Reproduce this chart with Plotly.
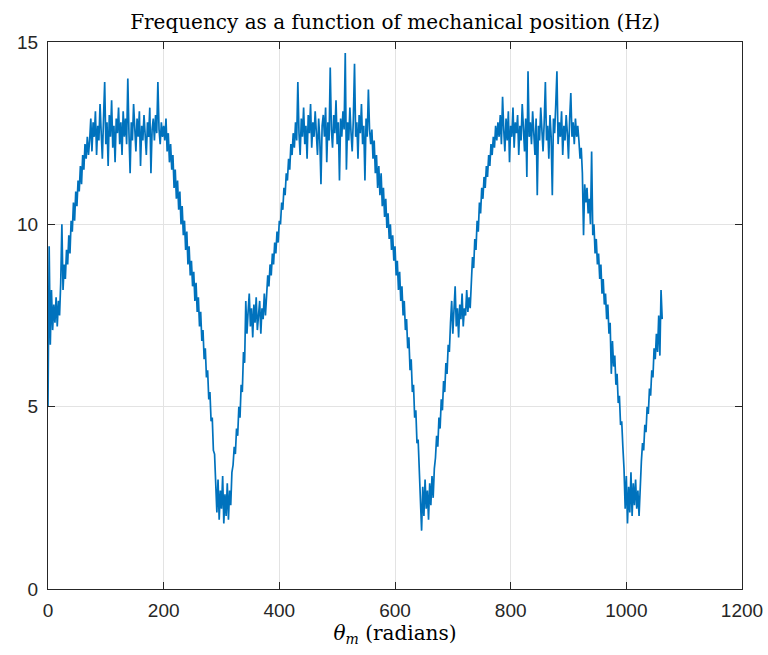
import plotly.graph_objects as go

seg_start = [5.0, 9.4, 6.7, 8.2, 7.1, 7.8, 7.3, 8.0, 7.2, 7.9, 7.5]
seg_rise1 = [8.4, 10.0, 8.2, 8.9, 8.5, 9.3, 8.9, 9.7, 9.2, 10.1, 9.8, 10.6, 10.1, 10.9, 10.5,
             11.2, 10.9, 11.6, 11.1, 11.9, 11.5, 12.2, 11.8, 12.4, 11.9]
seg_peak1 = [12.3, 12.9, 12.0, 12.8, 12.4, 13.1, 11.9, 12.7, 12.3, 13.3, 12.5, 11.8, 12.9, 13.9,
             12.2, 12.8, 11.6, 13.0, 12.4, 13.4, 12.1, 12.7, 11.7, 12.9, 12.5, 13.2, 12.2, 12.8,
             11.9, 13.1, 12.4, 12.9, 12.2, 14.0, 12.5, 11.4, 12.8, 12.3, 13.3, 12.6, 12.0, 12.9,
             12.4, 13.1, 11.6, 12.7, 12.3, 13.0, 12.5, 11.9, 12.8, 12.4, 13.2, 11.4, 12.6, 12.9,
             12.3, 13.0, 12.5, 13.9, 12.6, 12.2, 12.8, 12.4, 12.7]
seg_fall1 = [12.3, 12.9, 12.0, 12.5, 11.7, 12.2, 11.5, 11.9, 11.0, 11.5, 10.7, 11.2, 10.4, 10.9,
             10.0, 10.5, 9.7, 10.1, 9.3, 9.8, 8.9, 9.4, 8.6, 9.0, 8.3, 8.7, 7.9, 8.4, 7.6, 8.0,
             7.2, 7.6, 6.8, 7.1, 6.3, 6.6, 5.8, 6.0, 5.2, 5.4, 4.6, 4.7, 3.8, 3.7]
seg_low1 = [2.9, 2.1, 3.0, 1.9, 2.7, 2.2, 3.1, 1.8, 2.6, 2.0, 2.9, 1.9, 2.7, 2.3, 3.2]
seg_rise2a = [3.4, 3.9, 3.7, 4.4, 4.2, 5.0, 4.7, 5.6, 5.4, 6.5, 6.2]
seg_shelf2 = [7.9, 7.0, 7.6, 8.1, 7.2, 7.7, 6.9, 7.8, 7.3, 8.0, 7.1, 7.6, 7.9, 7.0, 7.7, 7.4,
              8.1, 7.5]
seg_rise2b = [8.2, 8.6, 8.3, 8.9, 8.6, 9.2, 8.9, 9.5, 9.2, 9.8, 9.5, 10.1, 10.0, 10.6, 10.4,
              11.0, 10.8, 11.4, 11.2, 11.8, 11.5, 12.2, 11.9, 12.5]
seg_peak2 = [12.1, 12.8, 12.3, 13.9, 12.5, 11.9, 12.9, 12.4, 13.2, 12.2, 12.7, 11.8, 13.0, 12.5,
             13.3, 12.1, 12.8, 12.4, 13.1, 12.6, 11.9, 12.9, 12.3, 11.1, 12.7, 13.0, 12.4, 13.2,
             11.7, 12.8, 12.3, 14.3, 12.6, 12.1, 13.0, 12.5, 13.4, 12.2, 12.8, 11.2, 12.9, 12.4,
             13.1, 12.6, 14.7, 11.5, 12.8, 12.3, 13.2, 12.5, 12.0, 12.9, 14.4, 12.4, 12.8, 11.8,
             13.0, 12.5, 13.3, 12.2, 12.7, 11.2, 12.9, 12.4, 13.7, 12.6]
seg_fall2 = [12.2, 12.6, 11.8, 12.3, 11.4, 11.9, 11.0, 11.6, 10.8, 11.4, 10.5, 11.0, 10.2, 10.7,
             9.9, 10.3, 9.6, 10.0, 9.3, 9.7, 9.0, 9.4, 8.6, 9.0, 8.2, 8.7, 7.9, 8.3, 7.5, 7.9,
             7.1, 7.4, 6.6, 6.9, 6.0, 6.3, 5.4, 5.6, 4.7, 4.9, 4.0, 4.1, 3.2]
seg_low2 = [2.6, 1.6, 2.8, 2.0, 3.0, 2.2, 2.7, 1.9, 2.9, 2.3, 3.1, 2.5, 3.3]
seg_rise3a = [3.6, 4.2, 3.9, 4.7, 4.4, 5.2, 4.9, 5.7, 5.4, 6.2, 5.9, 6.7, 6.5]
seg_shelf3 = [7.3, 7.9, 7.0, 7.6, 8.3, 7.2, 7.7, 6.9, 7.8, 7.4, 8.1, 7.2, 7.7, 7.5, 8.2, 7.6,
              8.0, 7.7]
seg_rise3b = [8.4, 9.1, 8.8, 9.6, 9.3, 10.1, 9.8, 10.6, 10.3, 11.0, 10.7, 11.3, 11.0, 11.6,
              11.3, 11.9, 11.6, 12.2, 11.9, 12.4, 12.1, 12.7, 12.3, 12.8]
seg_peak3 = [12.4, 13.0, 12.2, 13.5, 12.6, 12.0, 12.9, 12.3, 13.1, 11.7, 12.7, 12.4, 13.2, 12.1,
             12.8, 12.5, 13.0, 11.9, 12.7, 12.3, 13.3, 12.5, 12.0, 12.9, 11.3, 14.2, 12.4, 12.8,
             12.2, 13.1, 12.6, 11.9, 12.9, 10.8, 12.7, 12.3, 13.2, 12.5, 12.0, 12.8, 13.9, 12.3,
             12.7, 11.8, 13.0, 12.4, 10.8, 12.9, 12.5, 13.3, 14.2, 12.2, 12.8, 12.4, 13.1, 11.9,
             12.7, 12.3, 13.0, 12.5, 11.8, 12.9, 13.6, 12.4, 12.8, 12.2, 12.9, 12.4, 12.7]
seg_fall3 = [12.3, 11.8, 12.1, 11.4, 9.7, 11.1, 10.6, 11.0, 10.3, 10.7, 10.0, 12.0, 9.7, 10.0,
             9.2, 9.6, 8.9, 9.2, 8.5, 8.9, 8.1, 8.5, 7.8, 8.1, 7.4, 7.8, 7.0, 7.3, 5.9, 6.8,
             6.1, 6.4, 5.6, 5.9, 5.1, 5.3, 4.5, 4.6, 3.9]
seg_low3 = [3.3, 2.2, 3.1, 1.8, 2.8, 2.1, 3.2, 2.0, 2.9, 2.3, 3.0, 2.2, 2.7, 2.0, 3.1]
seg_rise4 = [3.5, 4.0, 3.8, 4.5, 4.3, 5.0, 4.8, 5.5, 5.3, 6.0, 5.8, 6.6, 6.3, 7.0, 6.5, 7.5,
             6.4, 8.2, 7.4]

freq_hz = (seg_start + seg_rise1 + seg_peak1 + seg_fall1 + seg_low1 + seg_rise2a + seg_shelf2
           + seg_rise2b + seg_peak2 + seg_fall2 + seg_low2 + seg_rise3a + seg_shelf3
           + seg_rise3b + seg_peak3 + seg_fall3 + seg_low3 + seg_rise4)
step_rad = 2
theta_m = [i * step_rad for i in range(len(freq_hz))]

x_ticks = [0, 200, 400, 600, 800, 1000, 1200]
y_ticks = [0, 5, 10, 15]

fig = go.Figure()
fig.add_trace(go.Scatter(x=theta_m, y=freq_hz, mode="lines",
                         line=dict(color="#0072BD", width=1.7), showlegend=False))

axis_common = dict(
    showline=True, linecolor="#262626", linewidth=1, mirror="ticks",
    ticks="inside", ticklen=7, tickwidth=1, tickcolor="#262626",
    showgrid=True, gridcolor="#e3e3e3", gridwidth=1, zeroline=False,
    automargin=False,
    tickfont=dict(family="Liberation Sans, Arial, sans-serif", size=19, color="#262626"),
)

fig.update_layout(
    width=768, height=655,
    margin=dict(l=48, r=26, t=42, b=66),
    paper_bgcolor="white", plot_bgcolor="white",
    title=dict(text="Frequency as a function of mechanical position (Hz)",
               x=0.5145, xanchor="center", y=0.966, yanchor="middle",
               font=dict(family="DejaVu Serif, Liberation Serif, serif", size=20, color="black")),
    xaxis=dict(range=[0, 1200], tickvals=x_ticks, ticklabelstandoff=4,
               title=dict(text="<i>θ</i><sub><i>m</i></sub> (radians)", standoff=4,
                          font=dict(family="DejaVu Serif, Liberation Serif, serif", size=20,
                                    color="black")),
               **axis_common),
    yaxis=dict(range=[0, 15], tickvals=y_ticks, ticklabelstandoff=5, **axis_common),
)

fig.write_html("out.html")
